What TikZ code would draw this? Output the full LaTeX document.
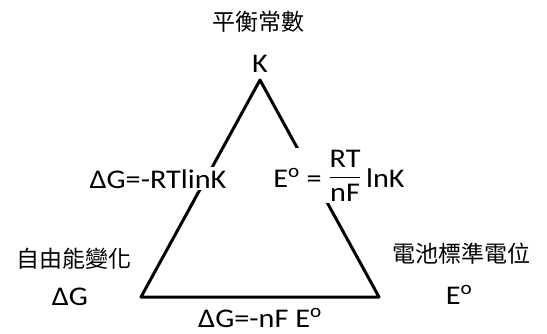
\documentclass[tikz,border=0pt]{standalone}
\usepackage{amsmath}
\usepackage{fontspec}
\setmainfont{Carlito}[FakeStretch=1.12]
\newfontfamily\cjk{Noto Sans CJK TC}

\begin{document}
\begin{tikzpicture}[x=1pt,y=1pt,line cap=round,line join=round,
  cjklbl/.style={font=\fontsize{23}{26}\selectfont\cjk},
  symlbl/.style={font=\fontsize{27}{30}\selectfont,inner sep=1pt,anchor=base},
  sidelbl/.style={font=\fontsize{27}{30}\selectfont,fill=white,inner sep=2pt,anchor=base},
  side/.style={line width=3pt}]
\useasboundingbox (0,0) rectangle (547,333);
% corners of the triangle
\coordinate (top) at (260,253);
\coordinate (bl) at (141,36);
\coordinate (br) at (379,36);
\draw[side] (top) -- (bl) -- (br) -- cycle;
% vertex labels
\node[cjklbl] (kname) at (258,311) {平衡常數};
\node[symlbl] (k) at (260,261) {K};
\node[cjklbl] (gname) at (74,74) {自由能變化};
\node[symlbl] (g) at (70,28) {ΔG};
\node[cjklbl] (ename) at (461,79) {電池標準電位};
\node[symlbl] (e) at (459,29) {E\textsuperscript{o}};
% relations on the sides
\node[sidelbl] (gk) at (158,145) {ΔG=-RTlinK};
\node[sidelbl] (ek) at (339,146) {E\textsuperscript{o} = \raisebox{3pt}{$\dfrac{\text{RT}}{\text{nF}}$}\,lnK};
\node[symlbl] (ge) at (260,6) {ΔG=-nF E\textsuperscript{o}};
\end{tikzpicture}
\end{document}
